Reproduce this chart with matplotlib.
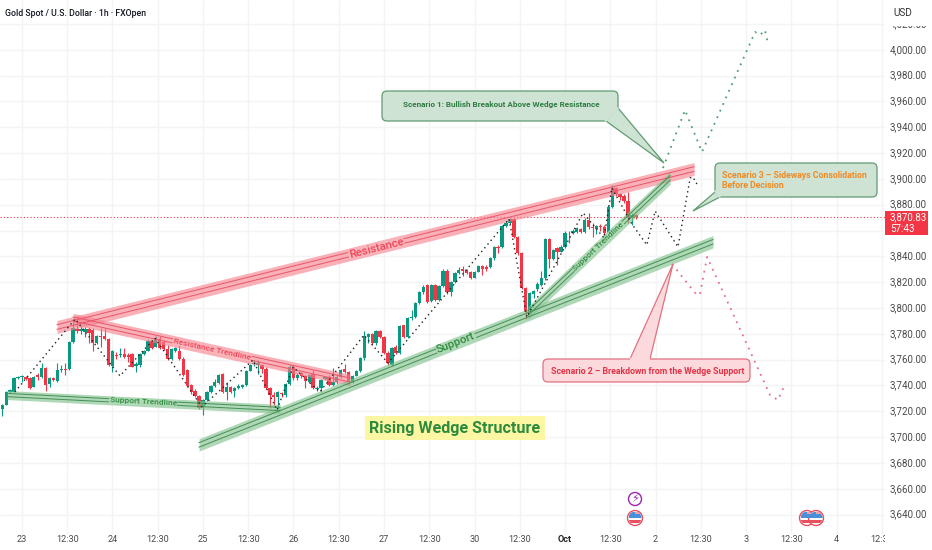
import numpy as np
import matplotlib
matplotlib.use('Agg')
import matplotlib.pyplot as plt
from matplotlib.patches import Circle, FancyBboxPatch, Polygon, Rectangle
from matplotlib.transforms import Affine2D, blended_transform_factory

plt.rcParams['font.family'] = ['Roboto', 'DejaVu Sans']

# hourly candles
opens = [3721.6,3724.9,3735.2,3735.2,3745.8,3746.3,3746.6,3745.6,3739.1,3748.1,
         3746.3,3753.6,3740.9,3745.8,3743.5,3752,3753,3752.5,3773.7,3783.5,
         3782.5,3781.7,3783.5,3783,3772.7,3778.3,3778.3,3776.3,3755.1,3763.9,
         3763.4,3764.4,3763.9,3764.4,3755.1,3755.6,3764.4,3767,3774.5,3770.1,
         3776.3,3774,3768,3760.5,3767,3767,3760.8,3752,3740.1,3736,
         3732.1,3723.1,3728.8,3735.2,3739.6,3741.7,3748.7,3735.2,3738.6,3735.8,
         3737.8,3738.6,3740.4,3751.5,3756.4,3756.1,3755.9,3752.5,3737.8,3732.7,
         3730.8,3734.5,3732.7,3741.2,3754.6,3745.6,3749.4,3747.4,3743,3748.9,
         3737.5,3737.8,3745,3746.8,3740.4,3742.4,3746.8,3752.7,3750.2,3742.9,
         3747.6,3751.2,3761,3777.8,3779.6,3772.6,3782.2,3777.8,3765.4,3755.8,
         3769.5,3765.4,3786.5,3777.8,3792,3792.8,3804.1,3812.6,3817.5,3805.4,
         3818,3806.2,3817,3828.6,3812.6,3820.4,3827.3,3829.9,3829.4,3828.1,
         3823.5,3828.1,3832.5,3832,3832,3838.4,3847.2,3847.2,3863.5,3865.5,
         3868.6,3855.2,3842.3,3815.2,3797.1,3811,3814.4,3817.8,3822.9,3853.1,
         3837.9,3846.2,3843.6,3847.5,3858.3,3857.8,3859,3861.4,3859,3868.1,
         3862.4,3860.9,3863.7,3862.4,3858.3,3878.4,3892.6,3888,3886.7,3882.8,
         3869.4,3872]
closes = [3724.9,3735.2,3736.5,3745.8,3746.8,3747.4,3744.8,3738.3,3746.9,3746.3,
          3753.6,3740.4,3745.6,3744.3,3752,3753,3752,3773.7,3784.3,3782.2,
          3783.8,3783.5,3780.4,3773.2,3778.3,3777.8,3776.3,3755.6,3766.7,3762.9,
          3764.4,3762.3,3762.3,3754.6,3756.4,3764.4,3767,3774.5,3769.3,3776.8,
          3768.8,3768,3760.5,3768.3,3768.8,3760.5,3748.1,3739.6,3735,3731.9,
          3722.8,3728.8,3735.2,3739.9,3742.5,3748.1,3735.2,3738.6,3735.2,3737.8,
          3739.6,3740.4,3751.5,3755.9,3757.2,3757.2,3752.5,3737.8,3732.7,3730.8,
          3734.7,3733.4,3741.2,3754.6,3745.6,3748.1,3747.6,3743.7,3748.1,3738.3,
          3738.3,3744.2,3746.8,3740.4,3742.9,3746.8,3752,3750.7,3742.9,3747.6,
          3751.2,3761,3778.3,3779.6,3772.6,3782.2,3777.8,3765.4,3757.1,3769.3,
          3765.4,3786,3777.3,3792,3793.3,3804.1,3812.6,3816,3804.9,3818,
          3806.2,3817.3,3828.6,3812.1,3820.4,3827.3,3829.4,3828.9,3827.3,3823.5,
          3828.1,3832.5,3829.9,3829.9,3838.4,3847.2,3846.7,3863.5,3866,3868.6,
          3855.2,3842.3,3815.7,3797.1,3811.3,3813.4,3818.6,3822.9,3853.1,3837.7,
          3844.9,3843.6,3847.5,3858.3,3857.8,3859.6,3861.6,3859,3868.1,3862.4,
          3861.6,3863.5,3863,3858.3,3878.4,3892.6,3888.2,3886.2,3882.8,3869.4,
          3872,3870.83]
highs = [3725.5,3735.7,3737,3746.5,3747.5,3748.2,3747.2,3746.5,3747.7,3749.4,
         3757.7,3754.1,3746.2,3746.8,3757.2,3755.5,3757.2,3774.5,3790.7,3790.7,
         3786,3785,3785,3784.5,3779,3784.3,3784.3,3777,3767.5,3766,
         3769,3768.8,3765,3765,3758,3765,3767.7,3776,3775.5,3778.5,
         3778,3775,3771,3769,3770,3771.4,3762,3753,3741,3737,
         3733,3729.5,3736,3740.5,3745,3749,3749.5,3743,3739.5,3739,
         3741,3741,3752.3,3757,3760,3760,3757,3754,3739,3735,
         3735.5,3735,3742,3756,3755.5,3750,3750.5,3748,3749,3752,
         3739.5,3745,3747.5,3748,3753.3,3749,3753,3757,3751,3748,
         3752,3762,3782.4,3780.5,3780.5,3783,3783,3778.5,3766.5,3770,
         3771,3787,3787,3792.8,3798.4,3805,3813.5,3818,3818.5,3818.5,
         3818.5,3818,3830.5,3830,3821,3828,3832,3832.5,3830.5,3829,
         3829,3833.5,3833,3833,3839.5,3848,3848.8,3864.5,3867.5,3870,
         3869.5,3856,3843,3816,3812,3814,3820,3829,3854,3854,
         3846,3847,3848.5,3859.5,3860,3861,3862.5,3862,3870,3873.3,
         3866,3864.5,3865,3864,3879.5,3895,3893.5,3889,3888,3890,
         3873.5,3873]
lows = [3716.4,3724.5,3734.5,3734.7,3745,3743,3744.3,3737,3738.5,3744.3,
        3745.6,3736,3739,3743.4,3743,3750.5,3748.1,3752,3773,3780.4,
        3780,3777.3,3772.7,3767,3772,3770,3775.5,3755,3750.7,3760.5,
        3762,3761,3758.5,3754,3750.7,3754.5,3763.5,3766.5,3768,3769.5,
        3768,3767.5,3759.5,3759.5,3766,3760,3747,3739,3733.5,3731,
        3722,3717.2,3728,3734.5,3739,3741,3734,3728.8,3734.5,3731.4,
        3737,3738,3739.8,3751,3755,3749,3750,3737,3722.3,3725,
        3722,3731,3731,3740.5,3744.5,3744,3746,3737.8,3742,3737.5,
        3736,3735.2,3744,3739.5,3739.5,3741.5,3746,3750,3741,3742,
        3747,3750.5,3760,3772.6,3771,3771.5,3777,3764.5,3755.8,3755,
        3764,3764.5,3776.5,3777,3791,3792,3803,3811,3804,3804.9,
        3805.5,3805.5,3816,3811,3809,3819.5,3826.5,3825,3826,3822.5,
        3823,3827.5,3825.5,3829,3831,3837.5,3842.3,3846.5,3863,3865,
        3854.5,3841,3815,3791.5,3796,3808,3813,3817,3822,3830.7,
        3837,3833.3,3843,3846.5,3850,3857,3858,3858,3858,3861,
        3854.7,3857,3860,3854,3857.5,3877.5,3887,3884,3881,3865.5,
        3864.2,3869]

last_price = 3870.83
countdown = '57:43'

# axis labels
price_ticks = list(range(3640, 4021, 20))
hidden_price = 3860  # sits behind the red last price tag
day_ticks = [5, 28, 51, 74, 97, 120, 143, 166, 189, 212]
day_labels = ['23', '24', '25', '26', '27', '30', 'Oct', '2', '3', '4']
half_ticks = [16.5, 39.5, 62.5, 85.5, 108.5, 131.5, 154.5, 177.5, 200.5, 223.5]

# wedge lines, (bar, price) at both ends
resistance_x = [13.9, 175.8]
resistance_y = [3785.3, 3907.6]
support_x = [50, 180.6]
support_y = [3694, 3851.3]
res_trend_x = [18, 88.4]
res_trend_y = [3791.5, 3744.2]
sup_trend_x = [1.2, 70.6]
sup_trend_y = [3732.6, 3721.8]
sup_trend2_x = [133.6, 169.7]
sup_trend2_y = [3796.1, 3900.7]

# dotted paths
black_x = [3.2, 18.5, 29.9, 38.8, 50.7, 63.7, 69.8, 73.9, 80.7, 91.9, 98, 128.8,
           133.3, 147.6, 152.9, 154.9, 160, 163.8, 165.9, 171.7, 174.8, 175.5, 176.8]
black_y = [3735, 3791.5, 3747.4, 3776.8, 3723.4, 3759.7, 3721, 3754.3, 3735, 3779, 3757.4, 3869,
           3793, 3873.6, 3854.2, 3893, 3865, 3848.8, 3875.1, 3847.3, 3900.7, 3901.4, 3894.5]
green_x = [167.9, 173.5, 177.8, 191.3, 192.6, 193.8, 194.6]
green_y = [3908.4, 3953.3, 3920.8, 4013.7, 4011.4, 4015.3, 4004.4]
pink_x = [170.2, 176.5, 177.3, 179.1, 195.1, 197.1, 198.6]
pink_y = [3834.1, 3810, 3810.8, 3839.5, 3732.6, 3728.8, 3738.8]

GREEN = '#089981'
RED = '#f23645'
GRID = '#f3f4f6'

fig = plt.figure(figsize=(9.32, 5.5), dpi=100)
ax = fig.add_axes([0, 0, 1, 1])
ax.set_xlim(-0.585, 236.26)
ax.set_ylim(3612.6, 4038.5)
ax.axis('off')

# pixel coordinates for the annotations, y going down like in the screenshot
px = Affine2D().scale(1 / 932, -1 / 550).translate(0, 1) + fig.transFigure
x_blend = blended_transform_factory(ax.transData, px)
y_blend = blended_transform_factory(px, ax.transData)

# grid
ax.hlines(price_ticks, -0.585, 224.3, color=GRID, lw=1, zorder=0)
ax.vlines(day_ticks + half_ticks, 3625, 4038.5, color=GRID, lw=1, zorder=0)

# candles
o = np.array(opens)
c = np.array(closes)
bars = np.arange(len(o))
colors = [GREEN if c[i] >= o[i] else RED for i in bars]
ax.vlines(bars, lows, highs, color=colors, lw=0.8, zorder=2)
ax.bar(bars, np.maximum(np.abs(c - o), 0.6), bottom=np.minimum(o, c), width=0.85,
       color=colors, zorder=3)

# last price line
ax.hlines(last_price, -0.585, 224.3, color=RED, lw=0.8, linestyles=(0, (1, 2)), zorder=4)


def band(x, y, half, fill, line, off=0.36):
    y = np.array(y, dtype=float)
    ax.fill_between(x, y - half, y + half, color=fill, alpha=0.62, lw=0, zorder=5)
    ax.plot(x, y - half * off, color=line, lw=0.7, zorder=6)
    ax.plot(x, y + half * off, color=line, lw=0.7, zorder=6)


def band_text(i, p, s, angle, col, bg, size):
    ax.text(i, p, s, rotation=angle, rotation_mode='anchor', ha='center', va='center',
            color=col, fontsize=size, fontweight='medium', zorder=7,
            bbox=dict(facecolor=bg, edgecolor='none', pad=0.4))


R_FILL, R_LINE = '#f7808c', '#e8566a'
G_FILL, G_LINE = '#7fc08a', '#468f56'
R_BG, G_BG = '#f9b4ba', '#b0d9b6'
band(resistance_x, resistance_y, 5, R_FILL, R_LINE)
band(res_trend_x, res_trend_y, 4.4, R_FILL, R_LINE)
band(sup_trend_x, sup_trend_y, 3.5, G_FILL, G_LINE)
band(support_x, support_y, 4.8, G_FILL, G_LINE)
band(sup_trend2_x, sup_trend2_y, 5, G_FILL, G_LINE)

band_text(95, 3846.6, 'Resistance', 14, '#ef4458', R_BG, 8.2)
band_text(115.3, 3772.6, 'Support', 21.5, '#2f8a3f', G_BG, 8.2)
band_text(53.3, 3767.8, 'Resistance Trendline', -12.4, '#ef4458', R_BG, 6.0)
band_text(35.8, 3727.2, 'Support Trendline', -3, '#2f8a3f', G_BG, 6.0)
band_text(151.4, 3847.7, 'Support Trendline', 43.5, '#2f8a3f', G_BG, 6.0)

# scenario paths
ax.plot(black_x, black_y, color='#222222', lw=1.0, ls=(0, (1, 2.5)), zorder=8)
ax.plot(green_x, green_y, color='#4f9d73', lw=1.3, ls=(0, (1, 3)), zorder=8)
ax.plot(pink_x, pink_y, color='#e66f86', lw=1.3, ls=(0, (1, 3)), zorder=8)


def callout(x0, y0, x1, y1, tail, seam, fill, edge):
    box = FancyBboxPatch((x0 + 4, y0 + 4), x1 - x0 - 8, y1 - y0 - 8,
                         boxstyle='round,pad=4,rounding_size=5', transform=px,
                         facecolor=fill, edgecolor=edge, lw=0.9, zorder=9)
    ax.add_patch(box)
    ax.add_patch(Polygon(tail, closed=True, transform=px, facecolor=fill, edgecolor=edge,
                         lw=0.9, zorder=9))
    ax.plot([p[0] for p in seam], [p[1] for p in seam], color=fill, lw=1.6,
            transform=px, zorder=9)


callout(382, 91, 618, 121, [(606, 121), (664, 163), (618, 108)], [(606, 120.5), (617.5, 108.5)],
        '#cfe3d4', '#5f9c70')
callout(543, 359, 750, 382, [(630, 359), (673, 264), (650, 359)], [(631, 359), (649, 359)],
        '#fbd9dd', '#e2727f')
callout(715, 163, 877, 197, [(715, 192), (693, 211), (720, 197)], [(715.5, 191.5), (719.5, 196.5)],
        '#cfe3d4', '#5f9c70')

ax.text(501, 104, 'Scenario 1: Bullish Breakout Above Wedge Resistance', transform=px,
        ha='center', va='center', color='#2e7d43', fontsize=5.9, fontweight='bold', zorder=10)
ax.text(648, 371, 'Scenario 2 \u2013 Breakdown from the Wedge Support', transform=px,
        ha='center', va='center', color='#e53346', fontsize=6.3, fontweight='bold', zorder=10)
ax.text(722, 176, 'Scenario 3 \u2013 Sideways Consolidation', transform=px,
        ha='left', va='center', color='#f08a24', fontsize=6.3, fontweight='bold', zorder=10)
ax.text(722, 185, 'Before Decision', transform=px,
        ha='left', va='center', color='#f08a24', fontsize=6.3, fontweight='bold', zorder=10)

ax.text(455, 428, 'Rising Wedge Structure', transform=px, ha='center', va='center',
        color='#2e8b3d', fontsize=11.6, fontweight='bold', zorder=10,
        bbox=dict(facecolor='#fdf7a3', edgecolor='none', pad=3))


# calendar markers at the bottom
def flag(x, y):
    r = 6.5
    outer = Circle((x, y), r + 1, transform=px, facecolor='white', edgecolor='#e8505f', lw=1, zorder=10)
    ax.add_patch(outer)
    clip = Circle((x, y), r, transform=px)
    ax.add_patch(Rectangle((x - r, y - r), 2 * r, r, transform=px, facecolor='#4a90d9', lw=0,
                           zorder=11)).set_clip_path(clip)
    ax.add_patch(Rectangle((x, y - r), r, 2.2, transform=px, facecolor='#f2a0a8', lw=0,
                           zorder=12)).set_clip_path(clip)
    ax.add_patch(Rectangle((x - r, y + 1.8), 2 * r, 3, transform=px, facecolor='#e8505f', lw=0,
                           zorder=11)).set_clip_path(clip)


ax.add_patch(Circle((635, 499), 6.5, transform=px, facecolor='white', edgecolor='#9c27b0',
                    lw=1, zorder=10))
ax.text(635, 499, '\u26a1', transform=px, ha='center', va='center', color='#9c27b0',
        fontsize=8, family='DejaVu Sans', zorder=11)
flag(807, 518)
flag(816, 518)
flag(635, 518)

# price scale
ax.add_patch(Rectangle((885, 525), 47, 25, transform=px, facecolor='white', lw=0, zorder=13))
for p in price_ticks:
    if p == hidden_price:
        continue
    ax.text(890, p, f'{p:,.2f}', transform=y_blend, ha='left', va='center', color='#4a4a4a',
            fontsize=7.0, zorder=12)
ax.add_patch(Rectangle((885, 0), 47, 26, transform=px, facecolor='white', lw=0, zorder=13))
ax.text(893, 13, 'USD', transform=px, ha='left', va='center', color='#333333', fontsize=7.2, zorder=14)

ax.add_patch(Rectangle((885, 211), 43, 24, transform=px, facecolor=RED, lw=0, zorder=14))
ax.text(890, 217, f'{last_price:,.2f}', transform=px, ha='left', va='center', color='white',
        fontsize=7.0, zorder=15)
ax.text(890, 228.5, countdown, transform=px, ha='left', va='center', color='white', fontsize=7.0, zorder=15)

# time axis
for t, s in zip(day_ticks, day_labels):
    ax.text(t, 540, s, transform=x_blend, ha='center', va='center', color='#222222' if s == 'Oct' else '#4a4a4a',
            fontsize=6.6, fontweight='bold' if s == 'Oct' else 'normal', zorder=12)
for t in half_ticks:
    ax.text(t, 540, '12:30', transform=x_blend, ha='center', va='center', color='#4a4a4a',
            fontsize=6.6, zorder=12)

ax.text(5, 13, 'Gold Spot / U.S. Dollar \u00b7 1h \u00b7 FXOpen', transform=px, ha='left', va='center',
        color='#131722', fontsize=6.3, fontweight='medium', zorder=12)

fig.savefig('out.png', dpi=100)
